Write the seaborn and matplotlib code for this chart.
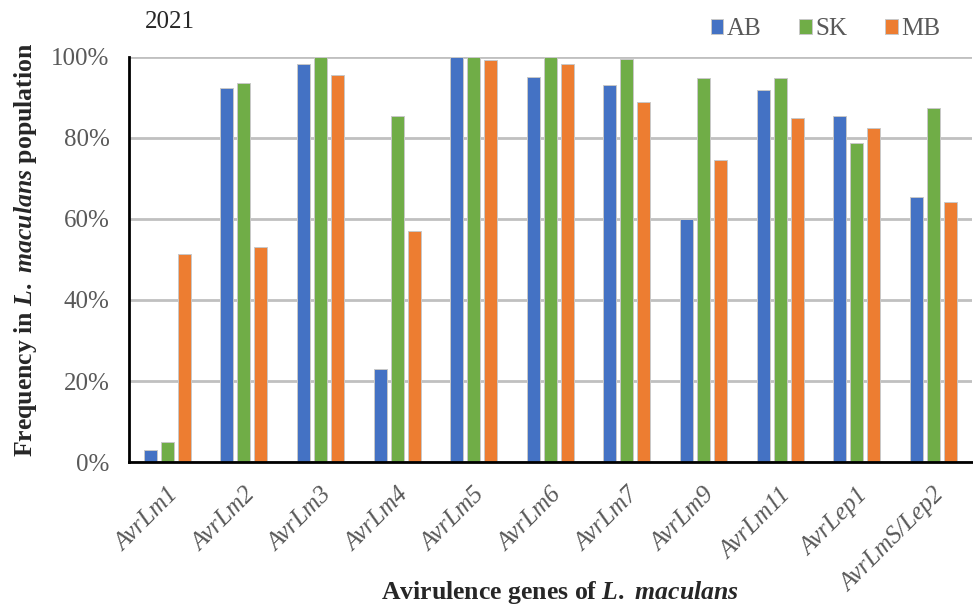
import matplotlib
matplotlib.use("Agg")
import matplotlib.pyplot as plt
import seaborn as sns
import pandas as pd
from matplotlib.ticker import PercentFormatter

genes = ["AvrLm1", "AvrLm2", "AvrLm3", "AvrLm4", "AvrLm5", "AvrLm6",
         "AvrLm7", "AvrLm9", "AvrLm11", "AvrLep1", "AvrLmS/Lep2"]
ab = [3.0, 92.3, 98.3, 23.0, 100.0, 95.0, 93.0, 60.0, 91.9, 85.4, 65.4]
sk = [5.0, 93.6, 100.0, 85.4, 100.0, 100.0, 99.5, 94.8, 94.8, 78.8, 87.4]
mb = [51.4, 53.0, 95.6, 57.0, 99.3, 98.3, 88.9, 74.6, 85.0, 82.5, 64.2]
regions = ["AB", "SK", "MB"]
colors = ["#4472C4", "#70AD47", "#ED7D31"]

df = pd.DataFrame({
    "gene": genes * 3,
    "region": [r for r in regions for _ in genes],
    "freq": [v / 100 for v in ab + sk + mb],
})

sns.set_style("white")
plt.rcParams["font.family"] = ["Liberation Serif", "DejaVu Serif"]
plt.rcParams["mathtext.fontset"] = "custom"
plt.rcParams["mathtext.rm"] = "Liberation Serif:bold"
plt.rcParams["mathtext.it"] = "Liberation Serif:italic:bold"

fig = plt.figure(figsize=(9.73, 6.08), dpi=100)
ax = fig.add_axes([0.1326, 0.2401, 0.866, 0.6662])

sns.barplot(data=df, x="gene", y="freq", hue="region", order=genes,
            hue_order=regions, palette=colors, width=0.665, gap=0.24,
            edgecolor="#c8c8c8", linewidth=0.7, saturation=1, ax=ax)

ax.set_ylim(0, 1.0)
ax.set_xlim(-0.5, len(genes) - 0.5)
ax.set_yticks([0, 0.2, 0.4, 0.6, 0.8, 1.0])
ax.yaxis.set_major_formatter(PercentFormatter(1.0, decimals=0))
ax.grid(axis="y", color="#c0c0c0", linewidth=2)
ax.set_axisbelow(True)

for s in ["top", "right"]:
    ax.spines[s].set_visible(False)
ax.spines["left"].set_color("black")
ax.spines["left"].set_linewidth(2)
ax.spines["bottom"].set_color("black")
ax.spines["bottom"].set_linewidth(2)

ax.tick_params(axis="both", length=0, labelsize=18, labelcolor="#595959")
ax.tick_params(axis="y", pad=14)
ax.tick_params(axis="x", pad=16)
for lab in ax.get_xticklabels():
    lab.set_rotation(45)
    lab.set_ha("right")
    lab.set_rotation_mode("anchor")
    lab.set_style("italic")

ax.set_ylabel(r"Frequency in $\mathit{L.\ maculans}$ population",
              fontsize=18.5, fontweight="bold")
ax.yaxis.label.set_va("center")
ax.yaxis.set_label_coords(-0.123, 0.523)

ax.set_xlabel(r"Avirulence genes of $\mathit{L.\ maculans}$",
              fontsize=18.5, fontweight="bold")
ax.xaxis.label.set_va("center")
ax.xaxis.set_label_coords(0.512, -0.323)

fig.text(0.149, 0.964, "2021", fontsize=18, va="center", ha="left")

ax.legend(loc="center right", bbox_to_anchor=(0.975, 1.068), ncol=3,
          frameon=False, fontsize=18, handlelength=0.5, handleheight=0.5,
          handletextpad=0.15, columnspacing=1.5, labelcolor="#595959",
          borderaxespad=0)

fig.savefig("out.png", dpi=100)
